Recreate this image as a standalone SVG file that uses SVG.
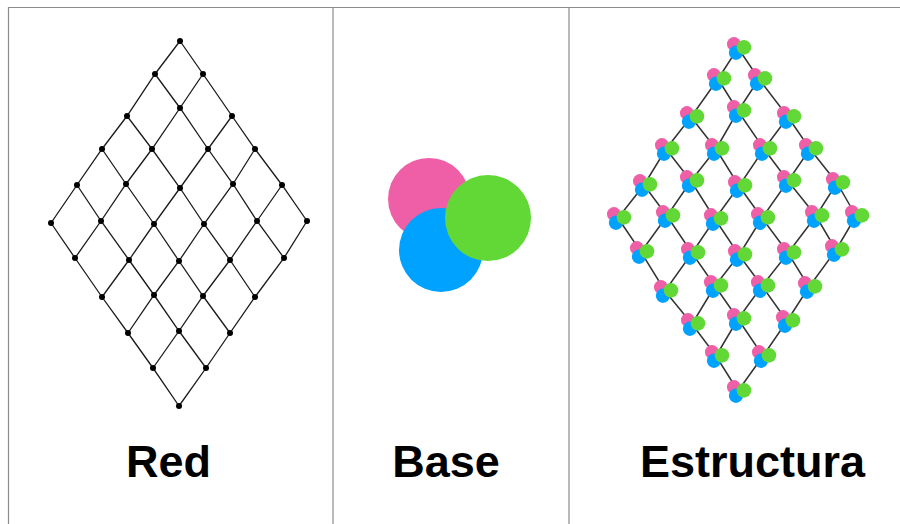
<svg xmlns="http://www.w3.org/2000/svg" xmlns:xlink="http://www.w3.org/1999/xlink" width="900" height="524" viewBox="0 0 900 524">
<style>
.frame{stroke:#8c8c8c;stroke-width:1.2;fill:none}
.edge{fill:none;stroke:#1a1a1a;stroke-width:1.3}
.edge2{fill:none;stroke:#333;stroke-width:1.5}
.dot{fill:#000}
.label{font-family:"Liberation Sans",Arial,Helvetica,sans-serif;font-weight:bold;font-size:45px;fill:#000;text-anchor:middle}
</style>
<defs>
<g id="trio">
<circle cx="-24" cy="-23" r="41" fill="#EF5FA7"/>
<circle cx="-12" cy="28" r="42" fill="#00A2FF"/>
<circle cx="35" cy="-4" r="43" fill="#61D836"/>
</g>
</defs>
<rect width="900" height="524" fill="#fff"/>
<g id="frame">
<path class="frame" d="M8.5,524 V7.5 H900 M333,7.5 V524 M569,7.5 V524"/>
</g>
<g id="connectors">
<polyline class="edge" points="180,41 203,74 232,116 255,149 282,185 307,221"/>
<polyline class="edge" points="155,74 180,108 208,149 233,184 257,221 284,258"/>
<polyline class="edge" points="127,116 152,149 180,188 204,224 230,260 255,297"/>
<polyline class="edge" points="102,149 126,184 154,224 179,261 203,296 230,333"/>
<polyline class="edge" points="77,185 101,221 129,260 154,295 179,331 206,368"/>
<polyline class="edge" points="51,223 75,258 102,297 128,333 153,368 179,406"/>
<polyline class="edge" points="180,41 155,74 127,116 102,149 77,185 51,223"/>
<polyline class="edge" points="203,74 180,108 152,149 126,184 101,221 75,258"/>
<polyline class="edge" points="232,116 208,149 180,188 154,224 129,260 102,297"/>
<polyline class="edge" points="255,149 233,184 204,224 179,261 154,295 128,333"/>
<polyline class="edge" points="282,185 257,221 230,260 203,296 179,331 153,368"/>
<polyline class="edge" points="307,221 284,258 255,297 230,333 206,368 179,406"/>
<polyline class="edge2" points="738,48 759,79 788,117 810,149 837,183 856,216"/>
<polyline class="edge2" points="718,79 738,111 764,149 788,181 816,216 836,250"/>
<polyline class="edge2" points="691,117 716,149 739,186 762,218 788,253 809,287"/>
<polyline class="edge2" points="666,149 691,181 715,219 739,255 762,286 787,321"/>
<polyline class="edge2" points="644,185 667,216 692,253 715,286 738,319 763,356"/>
<polyline class="edge2" points="618,218 641,252 665,291 692,324 716,356 738,391"/>
<polyline class="edge2" points="738,48 718,79 691,117 666,149 644,185 618,218"/>
<polyline class="edge2" points="759,79 738,111 716,149 691,181 667,216 641,252"/>
<polyline class="edge2" points="788,117 764,149 739,186 715,219 692,253 665,291"/>
<polyline class="edge2" points="810,149 788,181 762,218 739,255 715,286 692,324"/>
<polyline class="edge2" points="837,183 816,216 788,253 762,286 738,319 716,356"/>
<polyline class="edge2" points="856,216 836,250 809,287 787,321 763,356 738,391"/>
</g>
<g id="red-nodes">
<g id="r00"><circle class="dot" cx="180" cy="41" r="3"/></g>
<g id="r01"><circle class="dot" cx="203" cy="74" r="3"/></g>
<g id="r02"><circle class="dot" cx="232" cy="116" r="3"/></g>
<g id="r03"><circle class="dot" cx="255" cy="149" r="3"/></g>
<g id="r04"><circle class="dot" cx="282" cy="185" r="3"/></g>
<g id="r05"><circle class="dot" cx="307" cy="221" r="3"/></g>
<g id="r10"><circle class="dot" cx="155" cy="74" r="3"/></g>
<g id="r11"><circle class="dot" cx="180" cy="108" r="3"/></g>
<g id="r12"><circle class="dot" cx="208" cy="149" r="3"/></g>
<g id="r13"><circle class="dot" cx="233" cy="184" r="3"/></g>
<g id="r14"><circle class="dot" cx="257" cy="221" r="3"/></g>
<g id="r15"><circle class="dot" cx="284" cy="258" r="3"/></g>
<g id="r20"><circle class="dot" cx="127" cy="116" r="3"/></g>
<g id="r21"><circle class="dot" cx="152" cy="149" r="3"/></g>
<g id="r22"><circle class="dot" cx="180" cy="188" r="3"/></g>
<g id="r23"><circle class="dot" cx="204" cy="224" r="3"/></g>
<g id="r24"><circle class="dot" cx="230" cy="260" r="3"/></g>
<g id="r25"><circle class="dot" cx="255" cy="297" r="3"/></g>
<g id="r30"><circle class="dot" cx="102" cy="149" r="3"/></g>
<g id="r31"><circle class="dot" cx="126" cy="184" r="3"/></g>
<g id="r32"><circle class="dot" cx="154" cy="224" r="3"/></g>
<g id="r33"><circle class="dot" cx="179" cy="261" r="3"/></g>
<g id="r34"><circle class="dot" cx="203" cy="296" r="3"/></g>
<g id="r35"><circle class="dot" cx="230" cy="333" r="3"/></g>
<g id="r40"><circle class="dot" cx="77" cy="185" r="3"/></g>
<g id="r41"><circle class="dot" cx="101" cy="221" r="3"/></g>
<g id="r42"><circle class="dot" cx="129" cy="260" r="3"/></g>
<g id="r43"><circle class="dot" cx="154" cy="295" r="3"/></g>
<g id="r44"><circle class="dot" cx="179" cy="331" r="3"/></g>
<g id="r45"><circle class="dot" cx="206" cy="368" r="3"/></g>
<g id="r50"><circle class="dot" cx="51" cy="223" r="3"/></g>
<g id="r51"><circle class="dot" cx="75" cy="258" r="3"/></g>
<g id="r52"><circle class="dot" cx="102" cy="297" r="3"/></g>
<g id="r53"><circle class="dot" cx="128" cy="333" r="3"/></g>
<g id="r54"><circle class="dot" cx="153" cy="368" r="3"/></g>
<g id="r55"><circle class="dot" cx="179" cy="406" r="3"/></g>
</g>
<g id="base-node"><use xlink:href="#trio" href="#trio" transform="translate(453,222)"/></g>
<g id="structure-nodes">
<g id="s00"><use href="#trio" xlink:href="#trio" transform="translate(738,48) scale(0.17)"/></g>
<g id="s01"><use href="#trio" xlink:href="#trio" transform="translate(759,79) scale(0.17)"/></g>
<g id="s02"><use href="#trio" xlink:href="#trio" transform="translate(788,117) scale(0.17)"/></g>
<g id="s03"><use href="#trio" xlink:href="#trio" transform="translate(810,149) scale(0.17)"/></g>
<g id="s04"><use href="#trio" xlink:href="#trio" transform="translate(837,183) scale(0.17)"/></g>
<g id="s05"><use href="#trio" xlink:href="#trio" transform="translate(856,216) scale(0.17)"/></g>
<g id="s10"><use href="#trio" xlink:href="#trio" transform="translate(718,79) scale(0.17)"/></g>
<g id="s11"><use href="#trio" xlink:href="#trio" transform="translate(738,111) scale(0.17)"/></g>
<g id="s12"><use href="#trio" xlink:href="#trio" transform="translate(764,149) scale(0.17)"/></g>
<g id="s13"><use href="#trio" xlink:href="#trio" transform="translate(788,181) scale(0.17)"/></g>
<g id="s14"><use href="#trio" xlink:href="#trio" transform="translate(816,216) scale(0.17)"/></g>
<g id="s15"><use href="#trio" xlink:href="#trio" transform="translate(836,250) scale(0.17)"/></g>
<g id="s20"><use href="#trio" xlink:href="#trio" transform="translate(691,117) scale(0.17)"/></g>
<g id="s21"><use href="#trio" xlink:href="#trio" transform="translate(716,149) scale(0.17)"/></g>
<g id="s22"><use href="#trio" xlink:href="#trio" transform="translate(739,186) scale(0.17)"/></g>
<g id="s23"><use href="#trio" xlink:href="#trio" transform="translate(762,218) scale(0.17)"/></g>
<g id="s24"><use href="#trio" xlink:href="#trio" transform="translate(788,253) scale(0.17)"/></g>
<g id="s25"><use href="#trio" xlink:href="#trio" transform="translate(809,287) scale(0.17)"/></g>
<g id="s30"><use href="#trio" xlink:href="#trio" transform="translate(666,149) scale(0.17)"/></g>
<g id="s31"><use href="#trio" xlink:href="#trio" transform="translate(691,181) scale(0.17)"/></g>
<g id="s32"><use href="#trio" xlink:href="#trio" transform="translate(715,219) scale(0.17)"/></g>
<g id="s33"><use href="#trio" xlink:href="#trio" transform="translate(739,255) scale(0.17)"/></g>
<g id="s34"><use href="#trio" xlink:href="#trio" transform="translate(762,286) scale(0.17)"/></g>
<g id="s35"><use href="#trio" xlink:href="#trio" transform="translate(787,321) scale(0.17)"/></g>
<g id="s40"><use href="#trio" xlink:href="#trio" transform="translate(644,185) scale(0.17)"/></g>
<g id="s41"><use href="#trio" xlink:href="#trio" transform="translate(667,216) scale(0.17)"/></g>
<g id="s42"><use href="#trio" xlink:href="#trio" transform="translate(692,253) scale(0.17)"/></g>
<g id="s43"><use href="#trio" xlink:href="#trio" transform="translate(715,286) scale(0.17)"/></g>
<g id="s44"><use href="#trio" xlink:href="#trio" transform="translate(738,319) scale(0.17)"/></g>
<g id="s45"><use href="#trio" xlink:href="#trio" transform="translate(763,356) scale(0.17)"/></g>
<g id="s50"><use href="#trio" xlink:href="#trio" transform="translate(618,218) scale(0.17)"/></g>
<g id="s51"><use href="#trio" xlink:href="#trio" transform="translate(641,252) scale(0.17)"/></g>
<g id="s52"><use href="#trio" xlink:href="#trio" transform="translate(665,291) scale(0.17)"/></g>
<g id="s53"><use href="#trio" xlink:href="#trio" transform="translate(692,324) scale(0.17)"/></g>
<g id="s54"><use href="#trio" xlink:href="#trio" transform="translate(716,356) scale(0.17)"/></g>
<g id="s55"><use href="#trio" xlink:href="#trio" transform="translate(738,391) scale(0.17)"/></g>
</g>
<g id="labels">
<text class="label" x="168.5" y="477">Red</text>
<text class="label" x="446" y="477">Base</text>
<text class="label" x="752.5" y="477">Estructura</text>
</g>
</svg>
